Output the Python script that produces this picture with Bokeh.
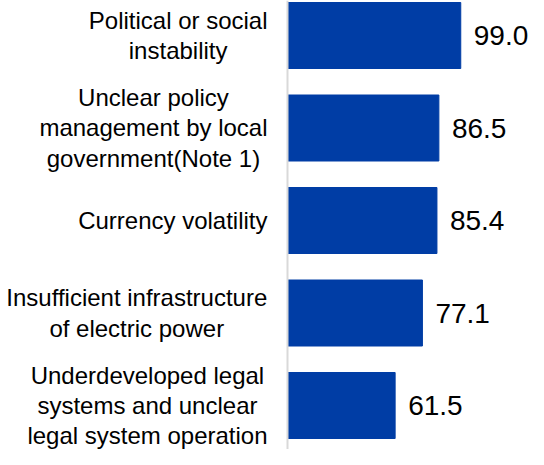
from bokeh.plotting import figure
from bokeh.models import ColumnDataSource, Range1d, Span
from bokeh.core.properties import value
from bokeh.embed import file_html
from bokeh.resources import INLINE

# ---- data ----
categories = [
    "Political or social\ninstability",
    "Unclear policy\nmanagement by local\ngovernment(Note 1)",
    "Currency volatility",
    "Insufficient infrastructure\nof electric power",
    "Underdeveloped legal\nsystems and unclear\nlegal system operation",
]
values = [99.0, 86.5, 85.4, 77.1, 61.5]
value_labels = [f"{v:.1f}" for v in values]

# ---- layout / style ----
W, H = 528, 449
AXIS_PX = 287        # pixel position of the baseline (x=0)
SCALE = 1.75         # pixels per unit
PITCH = 92.5         # pixels between bar centres
TOP_CENTER = 35      # pixel y of first bar centre
BAR_PX = 66
LABEL_GAP = 20
VALUE_GAP = 13
LABEL_SIZE = 24
VALUE_SIZE = 28
LINE_HEIGHT = 1.12
BLUE = "#003DA5"
FONT = "Liberation Sans"

# Arial/Liberation Sans advance widths (per 1000 em)
ARIAL = {
    'a': 556, 'b': 556, 'c': 500, 'd': 556, 'e': 556, 'f': 278, 'g': 556, 'h': 556,
    'i': 222, 'j': 222, 'k': 500, 'l': 222, 'm': 833, 'n': 556, 'o': 556, 'p': 556,
    'q': 556, 'r': 333, 's': 500, 't': 278, 'u': 556, 'v': 500, 'w': 722, 'x': 500,
    'y': 500, 'z': 500, 'P': 667, 'U': 722, 'C': 722, 'I': 278, 'N': 722,
    '(': 333, ')': 333, ' ': 278, '.': 278,
}


def text_width(s, size):
    return sum(ARIAL.get(c, 556) for c in s) * size / 1000.0


n = len(categories)
ypos = [n - 1 - i for i in range(n)]
label_offsets = [
    -(LABEL_GAP + max(text_width(line, LABEL_SIZE) for line in c.split("\n")) / 2.0)
    for c in categories
]

src = ColumnDataSource(dict(y=ypos, v=values, label=categories,
                            vl=value_labels, xoff=label_offsets))

y_top = (n - 1) + TOP_CENTER / PITCH
p = figure(
    width=W, height=H,
    x_range=Range1d(-AXIS_PX / SCALE, (W - AXIS_PX) / SCALE),
    y_range=Range1d(y_top - H / PITCH, y_top),
    output_backend="svg", toolbar_location=None, min_border=0,
)
p.axis.visible = False
p.grid.visible = False
p.outline_line_color = None
p.background_fill_color = "white"
p.border_fill_color = "white"

p.hbar(y="y", left=0, right="v", height=BAR_PX / PITCH, source=src,
       fill_color=BLUE, line_color=BLUE)

p.add_layout(Span(location=0, dimension="height", line_color="#d9d9d9", line_width=2))

p.text(x=0, y="y", text="label", x_offset="xoff", source=src,
       text_align="center", text_baseline="middle",
       text_font=value(FONT), text_font_size=f"{LABEL_SIZE}px",
       text_line_height=LINE_HEIGHT, text_color="black")

p.text(x="v", y="y", text="vl", x_offset=VALUE_GAP, source=src,
       text_align="left", text_baseline="middle",
       text_font=value(FONT), text_font_size=f"{VALUE_SIZE}px",
       text_color="black")

open("out.html", "w").write(file_html(p, INLINE))
